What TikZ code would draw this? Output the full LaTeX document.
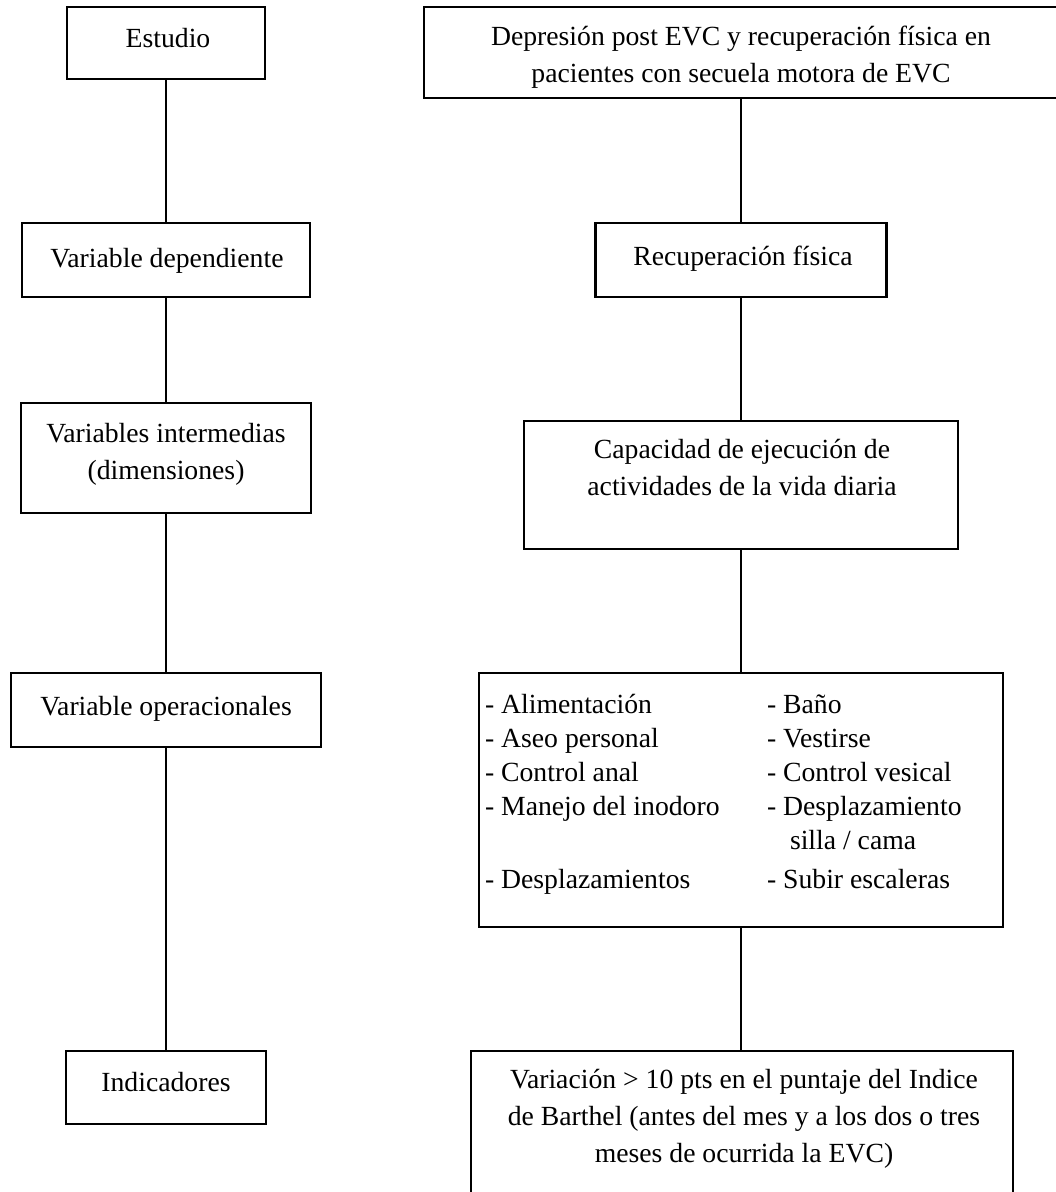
\documentclass[tikz,border=0pt]{standalone}
\usepackage{fontspec}
\setmainfont{Liberation Serif}
\begin{document}
\begin{tikzpicture}[x=1pt,y=-1pt,
  box/.style={draw, line width=2.6pt, rectangle, inner sep=0pt, outer sep=0pt},
  conn/.style={line width=2.4pt},
  txt/.style={inner sep=0pt, outer sep=0pt, anchor=base, font=\fontsize{27.7}{37}\selectfont},
  listtxt/.style={inner sep=0pt, outer sep=0pt, anchor=base west, font=\fontsize{27.7}{34}\selectfont}]
\useasboundingbox (0,0) rectangle (1056,1192);
\clip (0,0) rectangle (1056,1192);
% left column boxes
\node[box, minimum width=198pt, minimum height=72pt]  (l1) at (166,43)   {};
\node[box, minimum width=288pt, minimum height=74pt]  (l2) at (166,260)  {};
\node[box, minimum width=290pt, minimum height=110pt] (l3) at (166,458)  {};
\node[box, minimum width=310pt, minimum height=74pt]  (l4) at (166,710)  {};
\node[box, minimum width=200pt, minimum height=73pt]  (l5) at (166,1087.5) {};
% right column boxes
\node[box, minimum width=640pt, minimum height=91pt]  (r1) at (744,52.5) {};
\node[box, minimum width=291pt, minimum height=74pt]  (r2) at (741,260)  {};
\node[box, minimum width=434pt, minimum height=128pt] (r3) at (741,485)  {};
\node[box, minimum width=524pt, minimum height=254pt] (r4) at (741,800)  {};
\node[box, minimum width=542pt, minimum height=164pt] (r5) at (742,1133) {};
% connectors
\draw[conn] (l1.south) -- (l2.north);
\draw[conn] (l2.south) -- (l3.north);
\draw[conn] (l3.south) -- (l4.north);
\draw[conn] (l4.south) -- (l5.north);
\draw[conn] (r2.north |- r1.south) -- (r2.north);
\draw[conn] (r2.south) -- (r3.north);
\draw[conn] (r3.south) -- (r4.north);
\draw[conn] (r4.south) -- (r4.south |- r5.north);
% texts
\node[txt] (t1) at (168,47) {Estudio};
\node[txt] (t2) at (167,267) {Variable dependiente};
\node[txt] (t3) at (166,442) {\begin{tabular}[t]{@{}c@{}}Variables intermedias\\(dimensiones)\end{tabular}};
\node[txt] (t4) at (166,715) {Variable operacionales};
\node[txt] (t5) at (166,1091) {Indicadores};
\node[txt] (t6) at (741,45) {\begin{tabular}[t]{@{}c@{}}Depresión post EVC y recuperación física en\\pacientes con secuela motora de EVC\end{tabular}};
\node[txt] (t7) at (743,265) {Recuperación física};
\node[txt] (t8) at (742,458) {\begin{tabular}[t]{@{}c@{}}Capacidad de ejecución de\\actividades de la vida diaria\end{tabular}};
\node[listtxt] (t9) at (485,713) {\begin{tabular}[t]{@{}l@{}}- Alimentación\\- Aseo personal\\- Control anal\\- Manejo del inodoro\\ \\[5pt]- Desplazamientos\end{tabular}};
\node[listtxt] (t10) at (767,713) {\begin{tabular}[t]{@{}l@{}}- Baño\\- Vestirse\\- Control vesical\\- Desplazamiento\\\hspace*{23pt}silla / cama\\[5pt]- Subir escaleras\end{tabular}};
\node[txt] (t11) at (744,1088) {\begin{tabular}[t]{@{}c@{}}Variación > 10 pts en el puntaje del Indice\\de Barthel (antes del mes y a los dos o tres\\meses de ocurrida la EVC)\end{tabular}};
\end{tikzpicture}
\end{document}
